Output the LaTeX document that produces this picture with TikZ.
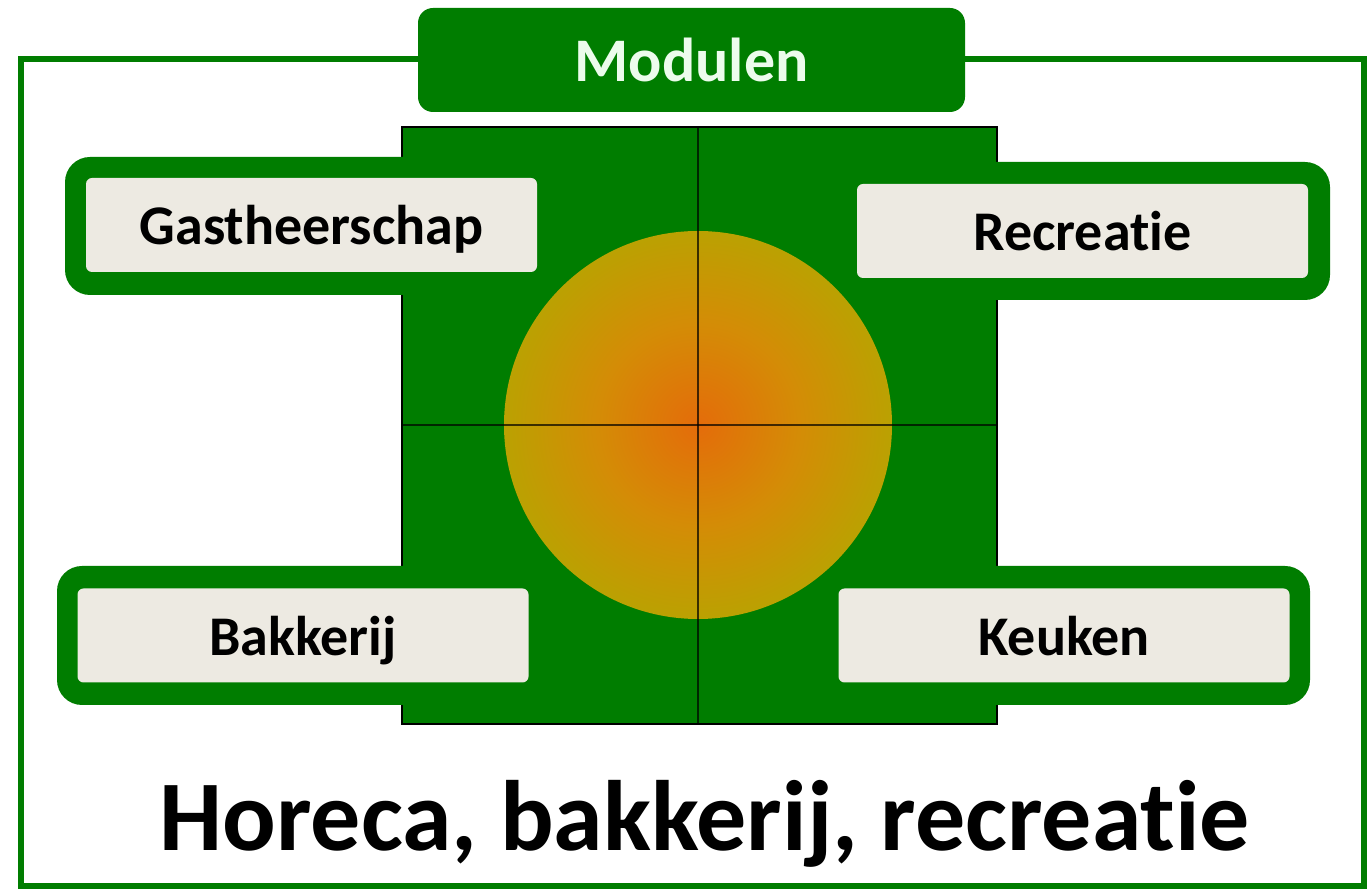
\documentclass[tikz,border=0pt]{standalone}
\usepackage{fontspec}
\setmainfont{Carlito}[Ligatures=NoCommon]
\usetikzlibrary{calc,shadings}
\definecolor{mgreen}{RGB}{0,125,0}
\definecolor{lblfill}{RGB}{237,234,226}
\definecolor{mtext}{RGB}{236,252,236}
\definecolor{corein}{RGB}{228,108,10}
\definecolor{coremid}{RGB}{212,140,6}
\definecolor{coreout}{RGB}{176,170,0}
\pgfdeclareradialshading{core}{\pgfpoint{0bp}{0bp}}{color(0bp)=(corein); color(13bp)=(coremid); color(30bp)=(coreout); color(50bp)=(coreout)}

\begin{document}
\begin{tikzpicture}[x=0.5pt,y=-0.5pt,
  holder/.style={fill=mgreen,rounded corners=12.5pt},
  lbl/.style={fill=lblfill,rounded corners=3pt,inner sep=0pt,minimum width=225.5pt,minimum height=47pt,text height=20pt,text depth=0pt,font=\bfseries\fontsize{28}{30}\selectfont,text=black}]
\useasboundingbox (0,0) rectangle (1372,892);
\fill[white] (0,0) rectangle (1372,892);
\coordinate (M) at (698,425);
% frame
\draw[mgreen,line width=3pt] (21,59) rectangle (1364,886);
\node[fill=mgreen,rounded corners=7.5pt,inner sep=0pt,minimum width=273.5pt,minimum height=52pt,text height=22pt,text depth=0pt,text=mtext,font=\bfseries\fontsize{31}{33}\selectfont] (modulen) at (691.5,60) {Modulen};
% middle block
\draw[fill=mgreen,draw=black,line width=0.8pt] (402,127) rectangle (997,724);
\fill[holder] (65,157) rectangle (440,295);
\fill[holder] (960,162) rectangle (1330,300);
\fill[holder] (57,566) rectangle (440,705);
\fill[holder] (960,566) rectangle (1310,705);
\shade[shading=core] (M) circle (97pt);
\draw[black,opacity=0.7,line width=0.6pt] (698,127) -- (698,724);
\draw[black,opacity=0.7,line width=0.6pt] (402,425) -- (997,425);
% labels
\foreach \nm/\px/\py/\txt in {gast/311.5/225/Gastheerschap,recr/1082.5/231/Recreatie,bakk/303/635.5/Bakkerij,keuk/1064/635.5/Keuken}
	\node[lbl] (\nm) at (\px,\py) {\txt};
\node[anchor=base,font=\bfseries\fontsize{50}{54}\selectfont] (titel) at (705,850) {Horeca, bakkerij, recreatie};
\end{tikzpicture}
\end{document}
